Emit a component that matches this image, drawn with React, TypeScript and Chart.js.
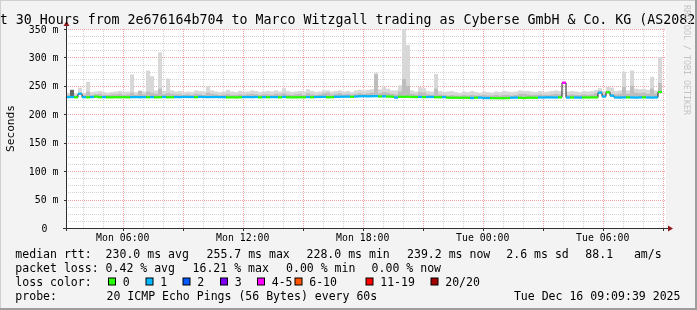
import React, { useEffect, useRef } from 'react';
import { Chart, registerables } from 'chart.js';

Chart.register(...registerables);

// ---------- DATA ----------
const TITLE = 'Last 30 Hours from 2e676164b704 to Marco Witzgall trading as Cyberse GmbH & Co. KG (AS208294)';
const Y_AXIS_TITLE = 'Seconds';
const WATERMARK = 'RRDTOOL / TOBI OETIKER';

// 150 bins of 12 minutes, covering Mon 03:09:39 .. Tue 09:09:39
const BIN_LABELS: string[] = Array.from({ length: 150 }, (_, i) => String(i));

const Y_TICK_VALUES = [0, 50, 100, 150, 200, 250, 300, 350];
const Y_TICK_LABELS = ['0', '50 m', '100 m', '150 m', '200 m', '250 m', '300 m', '350 m'];

const X_TICK_LABELS = ['Mon 06:00', 'Mon 12:00', 'Mon 18:00', 'Tue 00:00', 'Tue 06:00'];
const X_TICK_HOURS = [2.839, 8.839, 14.839, 20.839, 26.839]; // hours after start
const FIRST_FULL_HOUR = 0.839; // Mon 04:00
const FIRST_FULL_HOUR_OF_DAY = 4;
const RANGE_HOURS = 30;

const median: (number | null)[] = [
  230.2, 230.4, 229.9, 236.0, 230.1, 229.8, 230.3, 231.0, 230.0, 230.2,
  229.9, 229.8, 230.0, 229.9, 230.1, 229.8, 230.2, 230.3, 230.1, 230.2,
  229.9, 230.3, 229.8, 230.0, 230.4, 229.9, 230.0, 230.3, 230.2, 230.5,
  230.4, 230.3, 230.0, 230.6, 230.4, 230.2, 230.3, 230.4, 230.2, 230.1,
  229.7, 229.8, 229.6, 229.9, 230.2, 230.3, 230.1, 230.4, 229.8, 230.2,
  229.9, 230.3, 230.2, 229.8, 230.5, 229.9, 229.7, 229.8, 229.9, 229.8,
  230.3, 229.9, 230.4, 230.5, 230.6, 229.9, 230.0, 230.8, 230.9, 231.0,
  231.1, 230.6, 231.2, 231.6, 231.8, 231.5, 231.7, 231.9, 231.3, 231.6,
  231.2, 231.0, 229.4, 230.8, 230.6, 230.9, 230.4, 230.3, 230.5, 230.2,
  230.4, 230.5, 230.0, 229.9, 230.2, 229.3, 229.1, 229.2, 229.0, 229.1,
  229.0, 228.6, 229.2, 229.4, 228.6, 228.5, 228.4, 228.3, 228.4, 228.3,
  228.5, 229.2, 229.4, 229.0, 228.6, 229.1, 229.2, 229.0, 229.6, 229.5,
  229.7, 229.6, 229.5, 229.8, 255.5, 229.4, 229.6, 229.5, 229.4, 229.6,
  229.5, 229.7, 229.6, 238.0, 231.2, 238.6, 232.6, 229.5, 229.4, 229.6,
  229.7, 229.5, 229.4, 229.6, 229.8, 229.5, 229.4, 229.6, 239.2, null,
];

// lost pings (of 20) per bin
const lostPings: (number | null)[] = [
  1, 1, 0, 1, 1, 0, 1, 0, 0, 1,
  0, 0, 0, 0, 0, 0, 1, 1, 1, 1,
  0, 1, 0, 0, 1, 0, 0, 1, 1, 1,
  1, 1, 0, 1, 1, 1, 1, 1, 1, 1,
  0, 0, 0, 0, 1, 1, 1, 1, 0, 1,
  0, 1, 1, 0, 1, 0, 0, 0, 0, 0,
  1, 0, 1, 1, 1, 0, 0, 1, 1, 1,
  1, 0, 1, 1, 1, 1, 1, 1, 0, 1,
  0, 0, 1, 0, 0, 0, 0, 0, 1, 0,
  1, 1, 0, 0, 1, 0, 0, 0, 0, 0,
  0, 1, 0, 1, 1, 1, 0, 0, 0, 0,
  0, 1, 1, 0, 0, 0, 0, 0, 1, 1,
  1, 1, 1, 0, 5, 1, 0, 1, 1, 0,
  0, 0, 0, 1, 1, 0, 1, 1, 1, 1,
  0, 1, 1, 1, 0, 1, 1, 1, 0, null,
];

// outer smoke (max rtt)
const smokeMax: (number | null)[] = [
  238, 243, 236, 247, 238, 257, 239, 240, 241, 239,
  238, 239, 240, 241, 239, 240, 270, 239, 242, 240,
  277, 267, 242, 309, 241, 263, 242, 240, 241, 239,
  240, 239, 242, 241, 240, 250, 242, 240, 239, 240,
  243, 240, 239, 241, 239, 240, 242, 241, 239, 240,
  241, 240, 242, 240, 246, 241, 239, 240, 241, 240,
  244, 241, 239, 240, 242, 242, 240, 241, 242, 240,
  241, 239, 242, 243, 242, 243, 244, 273, 244, 248,
  245, 242, 242, 251, 353, 322, 242, 240, 248, 246,
  241, 240, 271, 241, 239, 240, 241, 239, 238, 240,
  239, 241, 239, 238, 240, 239, 238, 240, 239, 241,
  240, 239, 240, 242, 241, 241, 240, 239, 241, 239,
  240, 241, 242, 241, 256, 240, 241, 240, 239, 241,
  240, 241, 243, 246, 241, 248, 247, 241, 242, 275,
  242, 277, 245, 244, 245, 243, 266, 242, 301, null,
];

// inner smoke (upper quartile)
const smokeMid: (number | null)[] = [
  234, 236, 233, 238, 234, 240, 234, 235, 236, 234,
  234, 235, 235, 236, 234, 235, 238, 234, 241, 235,
  240, 238, 236, 245, 235, 237, 236, 235, 235, 234,
  235, 234, 236, 235, 234, 238, 236, 235, 234, 235,
  236, 234, 234, 235, 234, 235, 236, 235, 234, 235,
  235, 234, 236, 235, 237, 235, 234, 235, 236, 234,
  237, 235, 234, 235, 237, 238, 235, 236, 237, 235,
  236, 235, 236, 237, 236, 237, 238, 270, 237, 239,
  238, 236, 235, 240, 262, 250, 236, 235, 239, 238,
  235, 234, 245, 235, 234, 233, 234, 233, 233, 234,
  233, 234, 233, 233, 234, 233, 233, 234, 233, 234,
  234, 233, 234, 236, 236, 235, 234, 234, 235, 234,
  234, 235, 236, 235, 255, 234, 235, 234, 234, 235,
  234, 235, 237, 241, 235, 241, 236, 235, 236, 248,
  236, 250, 238, 237, 238, 236, 245, 236, 255, null,
];

// darkest smoke (only where the pings bunch up)
const smokeDark: (number | null)[] = [
  null, 243, null, null, null, null, null, null, null, null,
  null, null, null, null, null, null, null, null, null, null,
  null, null, null, null, null, null, null, null, null, null,
  null, null, null, null, null, null, null, null, null, null,
  null, null, null, null, null, null, null, null, null, null,
  null, null, null, null, null, null, null, null, null, null,
  null, null, null, null, null, null, null, null, null, null,
  null, null, null, null, null, null, null, null, null, null,
  null, null, null, null, null, null, null, null, null, null,
  null, null, null, null, null, null, null, null, null, null,
  null, null, null, null, null, null, null, null, null, null,
  null, null, null, null, null, null, null, null, null, null,
  null, null, null, null, 254, null, null, null, null, null,
  null, null, null, null, null, null, 234, null, null, null,
  null, null, null, null, null, null, null, null, null, null,
];

const LOSS_LABELS = ['0', '1', '2', '3', '4-5', '6-10', '11-19', '20/20'];
const LOSS_UPPER = [0, 1, 2, 3, 5, 10, 19, 20];
const LOSS_COLORS = ['#26ff00', '#00b8ff', '#0059ff', '#7e00ff', '#ff00ff', '#ff5500', '#ff0000', '#a10000'];

const RTT_ITEMS = ['median rtt:  230.0 ms avg', '255.7 ms max', '228.0 ms min', '239.2 ms now', '2.6 ms sd', '88.1   am/s'];
const LOSS_ITEMS = ['packet loss: 0.42 % avg', '16.21 % max', '0.00 % min', '0.00 % now'];
const LOSS_COLOR_TITLE = 'loss color:';
const PROBE_TITLE = 'probe:';
const PROBE_TEXT = '20 ICMP Echo Pings (56 Bytes) every 60s';
const DATE_TEXT = 'Tue Dec 16 09:09:39 2025';

// ---------- HELPERS ----------
function lossColor(n: number | null): string {
  if (n === null) return 'rgba(0,0,0,0)';
  for (let i = 0; i < LOSS_UPPER.length; i++) if (n <= LOSS_UPPER[i]) return LOSS_COLORS[i];
  return LOSS_COLORS[LOSS_COLORS.length - 1];
}

const MONO = '"DejaVu Sans Mono", "Liberation Mono", monospace';

const rrdPlugin = {
  id: 'rrdFrame',
  beforeDraw(chart: any) {
    const ctx = chart.ctx as CanvasRenderingContext2D;
    const W = chart.width, H = chart.height;
    const { left, top, right, bottom } = chart.chartArea;
    const xs = chart.scales.x, ys = chart.scales.y;
    ctx.save();
    ctx.fillStyle = '#f3f3f3';
    ctx.fillRect(0, 0, W, H);
    ctx.fillStyle = '#ffffff';
    ctx.fillRect(left, top, right - left, bottom - top);

    const hx = (h: number) => xs.left + (h / RANGE_HOURS) * (xs.right - xs.left);
    ctx.lineWidth = 1;
    ctx.setLineDash([1, 1]);
    for (let v = 12.5; v <= 350; v += 12.5) {
      const y = Math.round(ys.getPixelForValue(v)) + 0.5;
      ctx.strokeStyle = v % 50 === 0 ? '#f0a0a0' : '#d4d4d4';
      ctx.beginPath();
      ctx.moveTo(left, y);
      ctx.lineTo(right, y);
      ctx.stroke();
    }
    for (let k = 0; FIRST_FULL_HOUR + k < RANGE_HOURS; k++) {
      const x = Math.round(hx(FIRST_FULL_HOUR + k)) + 0.5;
      const major = (FIRST_FULL_HOUR_OF_DAY + k) % 3 === 0;
      ctx.strokeStyle = major ? '#f0a0a0' : '#d4d4d4';
      ctx.beginPath();
      ctx.moveTo(x, top);
      ctx.lineTo(x, bottom);
      ctx.stroke();
    }
    ctx.restore();
  },
  afterDatasetsDraw(chart: any) {
    const ctx = chart.ctx as CanvasRenderingContext2D;
    const W = chart.width, H = chart.height;
    const { left, top, right, bottom } = chart.chartArea;
    const xs = chart.scales.x, ys = chart.scales.y;
    const hx = (h: number) => xs.left + (h / RANGE_HOURS) * (xs.right - xs.left);
    ctx.save();
    ctx.setLineDash([]);
    ctx.lineWidth = 1;

    ctx.strokeStyle = '#303030';
    ctx.beginPath();
    ctx.moveTo(left - 3, bottom + 0.5);
    ctx.lineTo(right + 3, bottom + 0.5);
    ctx.moveTo(left + 0.5, bottom + 3);
    ctx.lineTo(left + 0.5, top - 4);
    for (const v of Y_TICK_VALUES) {
      const y = Math.round(ys.getPixelForValue(v)) + 0.5;
      ctx.moveTo(left - 2, y);
      ctx.lineTo(left, y);
    }
    for (let k = 0; FIRST_FULL_HOUR + k < RANGE_HOURS; k++) {
      if ((FIRST_FULL_HOUR_OF_DAY + k) % 3 !== 0) continue;
      const x = Math.round(hx(FIRST_FULL_HOUR + k)) + 0.5;
      ctx.moveTo(x, bottom);
      ctx.lineTo(x, bottom + 3);
    }
    ctx.stroke();
    ctx.fillStyle = '#8e1b1b';
    ctx.beginPath();
    ctx.moveTo(right + 2, bottom - 2.5);
    ctx.lineTo(right + 2, bottom + 3.5);
    ctx.lineTo(right + 7, bottom + 0.5);
    ctx.closePath();
    ctx.fill();
    ctx.beginPath();
    ctx.moveTo(left - 2.5, top - 3);
    ctx.lineTo(left + 3.5, top - 3);
    ctx.lineTo(left + 0.5, top - 8);
    ctx.closePath();
    ctx.fill();

    // title
    ctx.fillStyle = '#000';
    ctx.font = `13.29px ${MONO}`;
    ctx.textAlign = 'center';
    ctx.textBaseline = 'alphabetic';
    ctx.fillText(TITLE, 347.5, 23.5);

    // y labels
    ctx.font = `9.85px ${MONO}`;
    ctx.textAlign = 'right';
    Y_TICK_VALUES.forEach((v, i) => {
      const y = ys.getPixelForValue(v);
      const lx = Y_TICK_LABELS[i].endsWith(' m') ? left - 7.5 : left - 18.5;
      ctx.fillText(Y_TICK_LABELS[i], lx, y + 3.6);
    });
    // x labels
    ctx.textAlign = 'center';
    X_TICK_HOURS.forEach((h, i) => {
      ctx.fillText(X_TICK_LABELS[i], hx(h), bottom + 12.5);
    });

    // y axis title
    ctx.save();
    ctx.font = `11.2px ${MONO}`;
    ctx.translate(14, (top + bottom) / 2);
    ctx.rotate(-Math.PI / 2);
    ctx.textAlign = 'center';
    ctx.fillText(Y_AXIS_TITLE, 0, 0);
    ctx.restore();

    // watermark
    ctx.save();
    ctx.font = `8.3px ${MONO}`;
    ctx.fillStyle = '#c4c4c4';
    ctx.translate(684, 5);
    ctx.rotate(Math.PI / 2);
    ctx.textAlign = 'left';
    ctx.fillText(WATERMARK, 0, 0);
    ctx.restore();

    // legend
    ctx.font = `11.54px ${MONO}`;
    ctx.textAlign = 'left';
    ctx.fillStyle = '#000';
    const rows = [258.3, 272.3, 286.3, 300.3];
    const rttX = [15.3, 206.5, 306.5, 407.0, 506.3, 585.3];
    RTT_ITEMS.forEach((t, i) => ctx.fillText(t, rttX[i], rows[0]));
    const lossX = [15.3, 192.5, 286.0, 371.6];
    LOSS_ITEMS.forEach((t, i) => ctx.fillText(t, lossX[i], rows[1]));
    ctx.fillText(LOSS_COLOR_TITLE, 15.3, rows[2]);
    const boxX = [108, 145.5, 182.5, 220, 257, 294.5, 365.5, 430.5];
    LOSS_LABELS.forEach((t, i) => {
      ctx.fillStyle = '#000';
      ctx.fillRect(boxX[i], 277.5, 8, 8);
      ctx.fillStyle = LOSS_COLORS[i];
      ctx.fillRect(boxX[i] + 1, 278.5, 6, 6);
      ctx.fillStyle = '#000';
      ctx.fillText(t, boxX[i] + 14.7, rows[2]);
    });
    ctx.fillText(PROBE_TITLE, 15.3, rows[3]);
    ctx.fillText(PROBE_TEXT, 106.5, rows[3]);
    ctx.textAlign = 'right';
    ctx.fillText(DATE_TEXT, 680.5, rows[3]);

    // 3D frame
    ctx.fillStyle = '#d0d0d0';
    ctx.fillRect(0, 0, W, 1);
    ctx.fillRect(0, 0, 1, H);
    ctx.fillStyle = '#9e9e9e';
    ctx.fillRect(W - 2, 0, 2, H);
    ctx.fillRect(0, H - 2, W, 2);
    ctx.restore();
  },
};

export default function App() {
  const ref = useRef<HTMLCanvasElement>(null);
  useEffect(() => {
    if (!ref.current) return;
    const outer = median.map((m, i) => (m === null || smokeMax[i] === null ? null : [m, smokeMax[i] as number]));
    const inner = median.map((m, i) => (m === null || smokeMid[i] === null ? null : [m, smokeMid[i] as number]));
    const dark = median.map((m, i) => (m === null || smokeDark[i] === null ? null : [m, smokeDark[i] as number]));
    const band = median.map((m) => (m === null ? null : [m - 2, m + 2]));
    const chart = new Chart(ref.current, {
      type: 'bar',
      data: {
        labels: BIN_LABELS,
        datasets: [
          { label: 'smoke outer', data: outer as any, backgroundColor: '#d8d8d8', order: 6 },
          { label: 'smoke inner', data: inner as any, backgroundColor: '#bdbdbd', order: 5 },
          { label: 'smoke dark', data: dark as any, backgroundColor: '#666666', order: 4 },
          {
            type: 'line',
            label: 'median',
            data: median as any,
            borderColor: '#202020',
            borderWidth: 1,
            pointRadius: 0,
            stepped: 'middle',
            spanGaps: false,
            order: 3,
          } as any,
          {
            label: 'loss',
            data: band as any,
            backgroundColor: lostPings.map(lossColor),
            order: 1,
          },
        ],
      },
      options: {
        responsive: false,
        animation: false,
        devicePixelRatio: 1,
        layout: { padding: { left: 66, right: 31, top: 29, bottom: 82 } },
        datasets: {
          bar: {
            grouped: false,
            barPercentage: 1,
            categoryPercentage: 1,
            borderWidth: 0,
            inflateAmount: 0,
          } as any,
        },
        plugins: {
          legend: { display: false },
          tooltip: { enabled: false },
          title: { display: false },
        },
        scales: {
          x: { type: 'category', display: false, offset: true },
          y: { type: 'linear', display: false, min: 0, max: 350 },
        },
        events: [],
      },
      plugins: [rrdPlugin],
    });
    return () => chart.destroy();
  }, []);
  return (
    <div style={{ position: 'absolute', left: 0, top: 0, width: 697, height: 310 }}>
      <canvas ref={ref} width={697} height={310} style={{ display: 'block', width: 697, height: 310 }} />
    </div>
  );
}
